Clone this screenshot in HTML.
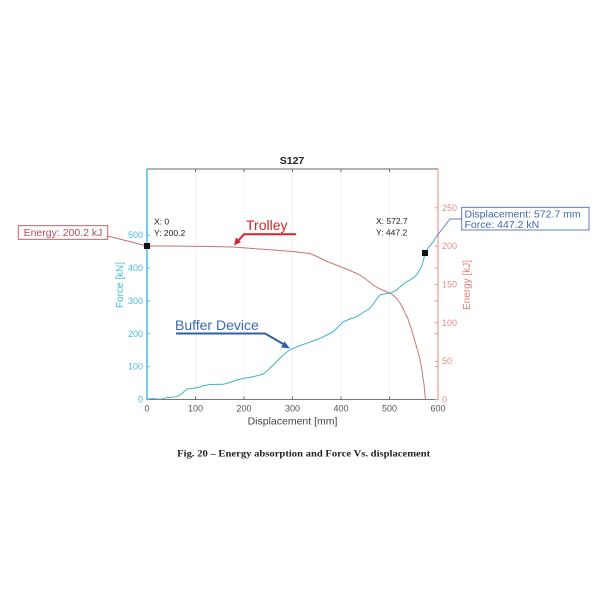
<!DOCTYPE html>
<html><head><meta charset="utf-8"><style>
html,body{margin:0;padding:0;background:#fff;}
svg{display:block;}
text{font-family:"Liberation Sans",sans-serif;}
text.cap{font-family:"Liberation Serif",serif;}
</style></head><body>
<svg width="600" height="600" viewBox="0 0 600 600" xmlns="http://www.w3.org/2000/svg">
<rect width="600" height="600" fill="#fff"/>
<!-- grid -->
<g stroke="#f0f0f0" stroke-width="0.8">
<line x1="195.5" y1="169" x2="195.5" y2="399.5"/>
<line x1="244" y1="169" x2="244" y2="399.5"/>
<line x1="292.5" y1="169" x2="292.5" y2="399.5"/>
<line x1="341" y1="169" x2="341" y2="399.5"/>
<line x1="389.5" y1="169" x2="389.5" y2="399.5"/>
</g>
<!-- box top/bottom -->
<line x1="147" y1="169" x2="438" y2="169" stroke="#666" stroke-width="1"/>
<line x1="147" y1="399.5" x2="438" y2="399.5" stroke="#777" stroke-width="1"/>
<!-- x ticks -->
<g stroke="#666" stroke-width="1">
<line x1="195.5" y1="399.5" x2="195.5" y2="396.5"/><line x1="244" y1="399.5" x2="244" y2="396.5"/>
<line x1="292.5" y1="399.5" x2="292.5" y2="396.5"/><line x1="341" y1="399.5" x2="341" y2="396.5"/>
<line x1="389.5" y1="399.5" x2="389.5" y2="396.5"/>
<line x1="195.5" y1="169" x2="195.5" y2="172"/><line x1="244" y1="169" x2="244" y2="172"/>
<line x1="292.5" y1="169" x2="292.5" y2="172"/><line x1="341" y1="169" x2="341" y2="172"/>
<line x1="389.5" y1="169" x2="389.5" y2="172"/>
</g>
<g font-size="9" fill="#555" text-anchor="middle">
<text x="147" y="411.5">0</text><text x="195.5" y="411.5">100</text><text x="244" y="411.5">200</text>
<text x="292.5" y="411.5">300</text><text x="341" y="411.5">400</text><text x="389.5" y="411.5">500</text>
<text x="438" y="411.5">600</text>
</g>
<text x="292.5" y="424.5" font-size="10.5" fill="#444" text-anchor="middle">Displacement [mm]</text>
<text x="292" y="164" font-size="10.5" font-weight="bold" fill="#222" text-anchor="middle">S127</text>
<!-- left axis -->
<line x1="147" y1="169" x2="147" y2="400" stroke="#4cc3dc" stroke-width="1.6"/>
<g stroke="#4cc3dc" stroke-width="1">
<line x1="147" y1="399.5" x2="150" y2="399.5"/><line x1="147" y1="366.6" x2="150" y2="366.6"/>
<line x1="147" y1="333.8" x2="150" y2="333.8"/><line x1="147" y1="300.9" x2="150" y2="300.9"/>
<line x1="147" y1="268.1" x2="150" y2="268.1"/><line x1="147" y1="235.2" x2="150" y2="235.2"/>
</g>
<g font-size="9" fill="#4ab8d6" text-anchor="end">
<text x="143" y="402.5">0</text><text x="143" y="369.6">100</text><text x="143" y="336.8">200</text>
<text x="143" y="303.9">300</text><text x="143" y="271.1">400</text><text x="143" y="238.2">500</text>
</g>
<text transform="translate(123,285) rotate(-90)" font-size="10" fill="#4ab8d6" text-anchor="middle">Force [kN]</text>
<!-- right axis -->
<line x1="438" y1="169" x2="438" y2="400" stroke="#f0a59c" stroke-width="1.3"/>
<g stroke="#e6928a" stroke-width="1">
<line x1="438" y1="399.5" x2="435" y2="399.5"/><line x1="438" y1="361.2" x2="435" y2="361.2"/>
<line x1="438" y1="322.8" x2="435" y2="322.8"/><line x1="438" y1="284.5" x2="435" y2="284.5"/>
<line x1="438" y1="246.2" x2="435" y2="246.2"/><line x1="438" y1="207.8" x2="435" y2="207.8"/>
<line x1="438" y1="268.1" x2="435" y2="268.1"/><line x1="438" y1="300.9" x2="435" y2="300.9"/>
<line x1="438" y1="333.8" x2="435" y2="333.8"/><line x1="438" y1="366.6" x2="435" y2="366.6"/>
</g>
<g font-size="9" fill="#e09088">
<text x="442" y="402.5">0</text><text x="442" y="364.2">50</text><text x="442" y="325.8">100</text>
<text x="442" y="287.5">150</text><text x="442" y="249.2">200</text><text x="442" y="210.8">250</text>
</g>
<text transform="translate(470,285) rotate(-90)" font-size="10" fill="#e07f75" text-anchor="middle">Energy [kJ]</text>
<!-- energy curve -->
<polyline fill="none" stroke="#c9766e" stroke-width="1" points="147,246 170,246 190,246.3 212,246.5 233,247 253,248.5 273,250 292,251.5 310,253.5 318,257 327,261.5 340,266.5 350,270.5 360,275 367,280 373,285 380,289 385,291 390,293 393,295 397,299 400,303 403,308 405,313 408,319 410,325 412,331 414,338 416,345 418,352 419.7,358 421,365 422.3,372 423,378 424,384 424.5,390 425,395 425.5,399.5"/>
<!-- force curve -->
<polyline fill="none" stroke="#3fb2cb" stroke-width="1" points="147,399 153,398.6 160,399.3 166.7,397.7 176.7,396.7 182,393.5 186.7,389 193.3,388.3 198,387.5 203.3,385.7 210,384.5 223.3,384.3 230,382.5 236.7,380 243,378.5 250,377.3 256,376 263.3,374 268,370 273.3,365 278,360 283.3,355 288,351 293.3,348.3 300,345.5 306.7,343.3 313,341 320,338.3 327,335 333.3,331.7 338,327 343.3,321.7 350,319 356.7,316.7 363,312.5 370,308.3 373.3,304 376,300 380,295 385,293.8 390,293.3 393,292 396.7,290 401,286 406.7,281.7 411,279.5 415,276.7 418,272.5 421.7,266.7 423.5,260 425,253 428,248 431,244.5 433.3,241.7 436,237"/>
<!-- leader to displacement box -->
<polyline fill="none" stroke="#5b7fb5" stroke-width="0.9" points="436,237 450,219 462,219"/>
<rect x="461.7" y="207.3" width="127.3" height="22.7" fill="#fff" stroke="#4a74b4" stroke-width="0.9"/>
<text x="464.5" y="217.3" font-size="10.5" fill="#3f68ad">Displacement: 572.7 mm</text>
<text x="464.5" y="228" font-size="10.5" fill="#3f68ad">Force: 447.2 kN</text>
<!-- energy box -->
<line x1="107.7" y1="236" x2="147" y2="246" stroke="#b9535a" stroke-width="0.9"/>
<rect x="18.3" y="225.7" width="89.4" height="13.6" fill="#fff" stroke="#c0505a" stroke-width="0.9"/>
<text x="63" y="236.2" font-size="10.5" fill="#b84a52" text-anchor="middle">Energy: 200.2 kJ</text>
<!-- markers -->
<rect x="144" y="243" width="6" height="6" fill="#111"/>
<rect x="422" y="250" width="6" height="6" fill="#111"/>
<!-- datatip texts -->
<g font-size="8.5" fill="#222">
<text x="154" y="224.5">X: 0</text><text x="154" y="236">Y: 200.2</text>
<text x="376" y="224">X: 572.7</text><text x="376" y="235.5">Y: 447.2</text>
</g>
<!-- Trolley -->
<text x="246" y="230" font-size="14" fill="#d4232b">Trolley</text>
<polyline fill="none" stroke="#d4232b" stroke-width="2" points="296,234.3 244,234.3 238,241"/>
<polygon points="234,245.5 236,237.5 241,242" fill="#d4232b"/>
<!-- Buffer Device -->
<text x="175" y="330" font-size="14" fill="#3b68b2">Buffer Device</text>
<polyline fill="none" stroke="#2e5fa8" stroke-width="2" points="176,333.5 265,333.5 285,345"/>
<polygon points="290,348.5 281,347.5 284.5,341.5" fill="#2e5fa8"/>
<!-- caption -->
<text class="cap" x="303.7" y="456.5" font-size="9.5" font-weight="bold" fill="#222" text-anchor="middle" textLength="253" lengthAdjust="spacingAndGlyphs">Fig.  20 – Energy absorption and Force Vs. displacement</text>
</svg>
</body></html>
